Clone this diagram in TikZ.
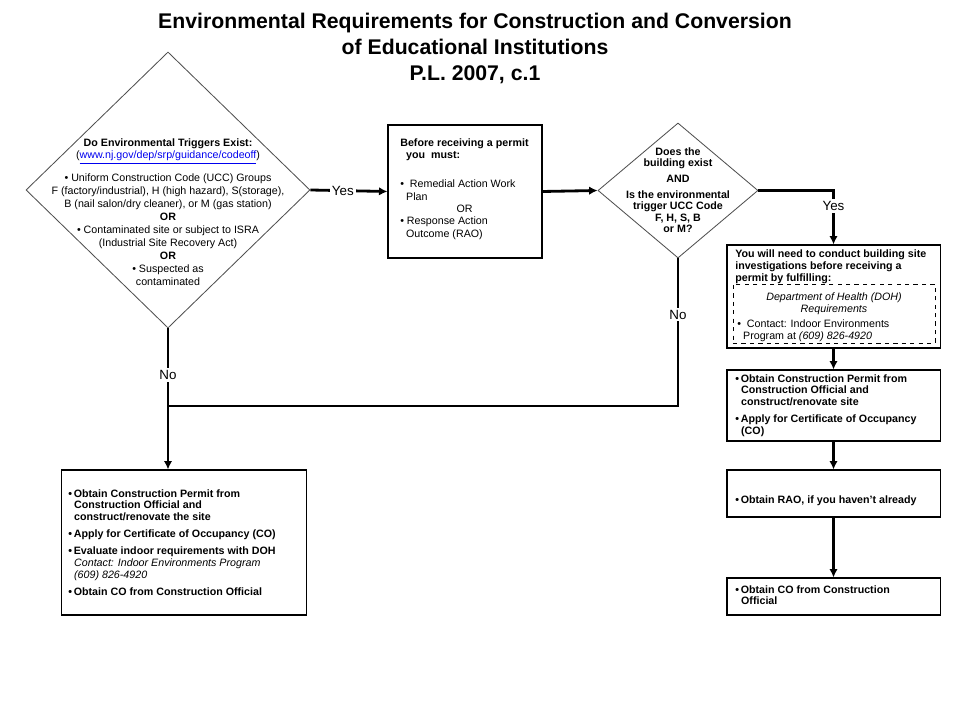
\documentclass[tikz,border=0pt]{standalone}
\usepackage{fontspec}
\setmainfont{Liberation Sans}
\usetikzlibrary{shapes.geometric, arrows.meta, positioning}
\definecolor{linkblue}{RGB}{0, 0, 238}
\definecolor{edgegray}{RGB}{80, 80, 80}
\newcommand{\ind}{\hspace*{0.55em}}

\begin{document}
\begin{tikzpicture}[x=0.025cm, y=-0.025cm,
    flow/.style={line width=2pt, -{Latex[length=6pt, width=6pt]}},
    link/.style={line width=2pt},
    decision/.style={diamond, draw=edgegray, line width=0.6pt, inner sep=0pt},
    stepbox/.style={draw, line width=0.75pt, inner sep=0pt, minimum width=5.325cm},
    body/.style={inner sep=0pt, font=\fontsize{7.6}{8.8}\selectfont},
    lbl/.style={fill=white, inner sep=1.5pt, font=\fontsize{9.5}{11}\selectfont}]

\useasboundingbox (0,0) rectangle (960,720);

% title
\node[anchor=north, align=center, font=\bfseries\fontsize{15.1}{18.5}\selectfont] (title) at (475,8)
    {Environmental Requirements for Construction and Conversion\\
     of Educational Institutions\\
     P.L. 2007, c.1};

% decisions
\node[decision, minimum width=7.1cm, minimum height=6.9cm] (d1) at (168,190) {};
\node[decision, minimum width=4cm, minimum height=3.375cm] (d2) at (678,190.5) {};

\node[body, anchor=north, align=center, font=\fontsize{7.6}{9.2}\selectfont] (d1text) at (168,138)
    {\textbf{Do Environmental Triggers Exist:}\\
     (\textcolor{linkblue}{\underline{www.nj.gov/dep/srp/guidance/codeoff}})\\[7pt]
     \textbullet\ Uniform Construction Code (UCC) Groups\\
     F (factory/industrial), H (high hazard), S(storage),\\
     B (nail salon/dry cleaner), or M (gas station)\\
     \textbf{OR}\\
     \textbullet\ Contaminated site or subject to ISRA\\
     (Industrial Site Recovery Act)\\
     \textbf{OR}\\
     \textbullet\ Suspected as\\
     contaminated};

\node[body, anchor=north, align=center, font=\bfseries\fontsize{7.6}{8.2}\selectfont] (d2text) at (678,147)
    {Does the\\
     building exist\\[3pt]
     AND\\[3pt]
     Is the environmental\\
     trigger UCC Code\\
     F, H, S, B\\
     or M?};

% boxes
\node[stepbox, minimum width=3.85cm, minimum height=3.325cm] (b2) at (465,191.5) {};
\node[stepbox, minimum height=2.575cm] (b3) at (833.5,296.5) {};
\node[stepbox, minimum height=1.775cm] (b4) at (833.5,405.5) {};
\node[stepbox, minimum height=1.175cm] (b5) at (833.5,493.5) {};
\node[stepbox, minimum height=0.925cm] (b6) at (833.5,596.5) {};
\node[stepbox, minimum width=6.1cm, minimum height=3.625cm] (bl) at (184,542.5) {};
\node[draw, dashed, line width=0.6pt, inner sep=0pt, minimum width=5.05cm, minimum height=1.475cm] (doh) at (834,313.5) {};

\node[body, anchor=north west, align=left] (b2text) at (400,138)
    {\textbf{Before receiving a permit}\\
     \textbf{\ind you\ \ must:}\\[12pt]
     \textbullet\ \ Remedial Action Work\\
     \ind Plan\\
     \hspace*{40pt}OR\\
     \textbullet\ Response Action\\
     \ind Outcome (RAO)};

\node[body, anchor=north west, align=left, font=\bfseries\fontsize{7.6}{8.8}\selectfont] (b3text) at (735,249)
    {You will need to conduct building site\\
     investigations before receiving a\\
     permit by fulfilling:};
\node[body, anchor=north, align=center, font=\itshape\fontsize{7.6}{8.8}\selectfont] (dohtext) at (834,292)
    {Department of Health (DOH)\\
     Requirements};
\node[body, anchor=north west, align=left] (dohcontact) at (737,319)
    {\textbullet\ \ Contact: Indoor Environments\\
     \ind Program at \textit{(609) 826-4920}};

\node[body, anchor=north west, align=left, font=\bfseries\fontsize{7.6}{8.5}\selectfont] (b4text) at (735,374)
    {\textbullet\,Obtain Construction Permit from\\
     \ind Construction Official and\\
     \ind construct/renovate site\\[3pt]
     \textbullet\,Apply for Certificate of Occupancy\\
     \ind (CO)};
\node[body, anchor=north west, align=left, font=\bfseries\fontsize{7.6}{8.5}\selectfont] (b5text) at (735,495)
    {\textbullet\,Obtain RAO, if you haven’t already};
\node[body, anchor=north west, align=left, font=\bfseries\fontsize{7.6}{8.5}\selectfont] (b6text) at (735,585)
    {\textbullet\,Obtain CO from Construction\\
     \ind Official};

\node[body, anchor=north west, align=left, font=\fontsize{7.6}{8.5}\selectfont] (bltext) at (68,489)
    {\textbf{\textbullet\,Obtain Construction Permit from}\\
     \textbf{\ind Construction Official and}\\
     \textbf{\ind construct/renovate the site}\\[3.5pt]
     \textbf{\textbullet\,Apply for Certificate of Occupancy (CO)}\\[3.5pt]
     \textbf{\textbullet\,Evaluate indoor requirements with DOH}\\
     \ind\textit{Contact: Indoor Environments Program}\\
     \ind\textit{(609) 826-4920}\\[3.5pt]
     \textbf{\textbullet\,Obtain CO from Construction Official}};

% connectors
\coordinate (join) at (168,406);
\draw[flow] (d1.east) -- node[lbl, pos=0.42] (yes1) {Yes} (b2.west);
\draw[flow] (b2.east) -- (d2.west);
\draw[flow] (d2.east) -| node[lbl, pos=0.645] (yes2) {Yes} (b3.north);
\draw[link] (d2.south) |- node[lbl, pos=0.19] (no2) {No} (join);
\draw[flow] (d1.south) -- node[lbl, pos=0.33] (no1) {No} (d1.south |- bl.north);
\draw[flow] (b3.south) -- (b4.north);
\draw[flow] (b4.south) -- (b5.north);
\draw[flow] (b5.south) -- (b6.north);
\end{tikzpicture}
\end{document}
